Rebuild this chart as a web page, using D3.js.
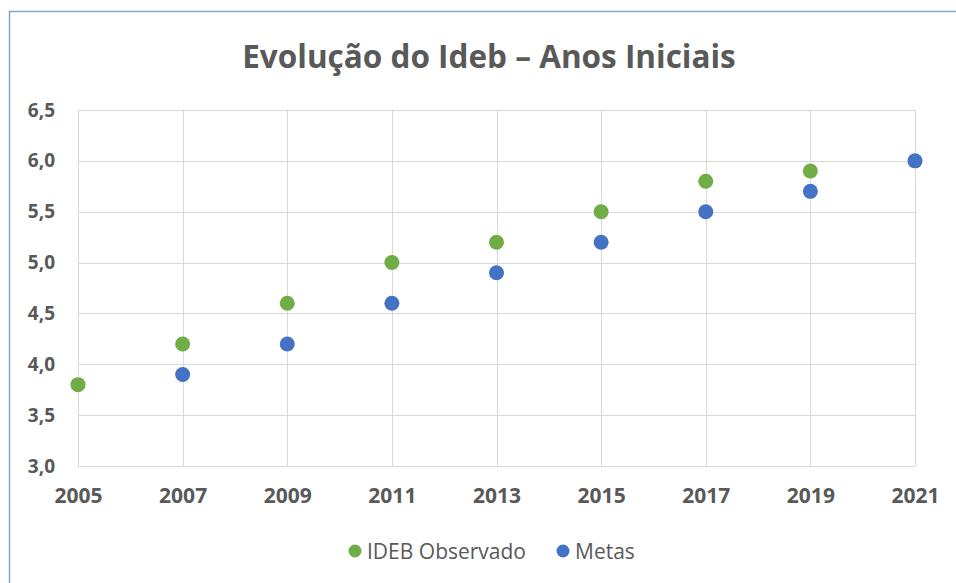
<!DOCTYPE html>
<html>
<head>
<meta charset="utf-8">
<script src="https://cdn.jsdelivr.net/npm/d3@7"></script>
<style>
body { margin: 0; background: #fff; }
text { font-family: "Open Sans", sans-serif; fill: #595959; }
</style>
</head>
<body>
<div id="chart"></div>
<script>
var titleText = "Evolução do Ideb – Anos Iniciais";
var years = [2005, 2007, 2009, 2011, 2013, 2015, 2017, 2019, 2021];
var yTicks = [3.0, 3.5, 4.0, 4.5, 5.0, 5.5, 6.0, 6.5];
var observedYears = [2005, 2007, 2009, 2011, 2013, 2015, 2017, 2019];
var observedValues = [3.8, 4.2, 4.6, 5.0, 5.2, 5.5, 5.8, 5.9];
var goalYears = [2007, 2009, 2011, 2013, 2015, 2017, 2019, 2021];
var goalValues = [3.9, 4.2, 4.6, 4.9, 5.2, 5.5, 5.7, 6.0];
var seriesNames = ["IDEB Observado", "Metas"];
var seriesColors = ["#70ad47", "#4472c4"];

var width = 956, height = 583;
var plotLeft = 78, plotRight = 915, plotTop = 110, plotBottom = 466;

var svg = d3.select("#chart").append("svg")
	.attr("width", width)
	.attr("height", height);

// frame
svg.append("path")
	.attr("d", "M9.5," + height + "V11.5H" + width)
	.attr("fill", "none")
	.attr("stroke", "#7fa7d9")
	.attr("stroke-width", 1.5);

var x = d3.scaleLinear().domain([2005, 2021]).range([plotLeft, plotRight]);
var y = d3.scaleLinear().domain([3.0, 6.5]).range([plotBottom, plotTop]);
var fmt = function(d) { return d3.format(".1f")(d).replace(".", ","); };

// gridlines
svg.append("g").selectAll("line")
	.data(yTicks).enter()
	.append("line")
	.attr("x1", plotLeft).attr("x2", plotRight)
	.attr("y1", d => Math.round(y(d)) + 0.5).attr("y2", d => Math.round(y(d)) + 0.5)
	.attr("stroke", "#d9d9d9");

svg.append("g").selectAll("line")
	.data(years).enter()
	.append("line")
	.attr("x1", d => Math.round(x(d)) + 0.5).attr("x2", d => Math.round(x(d)) + 0.5)
	.attr("y1", plotTop).attr("y2", plotBottom)
	.attr("stroke", "#d9d9d9");

// axes
var yAxis = d3.axisLeft(y).tickValues(yTicks).tickFormat(fmt).tickSize(0).tickPadding(23);
svg.append("g")
	.attr("transform", `translate(${plotLeft},0)`)
	.call(yAxis)
	.call(g => g.select(".domain").remove())
	.selectAll("text")
	.attr("font-size", "19px").attr("font-weight", "bold")
	.style("font-family", "'Open Sans', sans-serif").attr("fill", "#595959");

var xAxis = d3.axisBottom(x).tickValues(years).tickFormat(d3.format("d")).tickSize(0).tickPadding(22);
svg.append("g")
	.attr("transform", `translate(0,${plotBottom})`)
	.call(xAxis)
	.call(g => g.select(".domain").remove())
	.selectAll("text")
	.attr("font-size", "21px").attr("font-weight", "bold")
	.style("font-family", "'Open Sans', sans-serif").attr("fill", "#595959");

// title
svg.append("text")
	.attr("x", 489).attr("y", 68)
	.attr("text-anchor", "middle")
	.attr("font-size", "31.5px").attr("font-weight", "bold")
	.text(titleText);

// points
var series = [
	{ name: seriesNames[0], color: seriesColors[0], xs: observedYears, ys: observedValues },
	{ name: seriesNames[1], color: seriesColors[1], xs: goalYears, ys: goalValues }
];

series.forEach(function(s) {
	svg.append("g").selectAll("circle")
		.data(s.xs.map((d, i) => ({ year: d, value: s.ys[i] }))).enter()
		.append("circle")
		.attr("cx", d => x(d.year))
		.attr("cy", d => y(d.value))
		.attr("r", 7.5)
		.attr("fill", s.color);
});

// legend
var legendX = [355, 563];
var legend = svg.append("g").selectAll("g")
	.data(series).enter()
	.append("g")
	.attr("transform", (d, i) => `translate(${legendX[i]},551)`);

legend.append("circle").attr("r", 6.5).attr("fill", d => d.color);
legend.append("text")
	.attr("x", 12).attr("y", 7.5)
	.attr("font-size", "21px")
	.text(d => d.name);
</script>
</body>
</html>
